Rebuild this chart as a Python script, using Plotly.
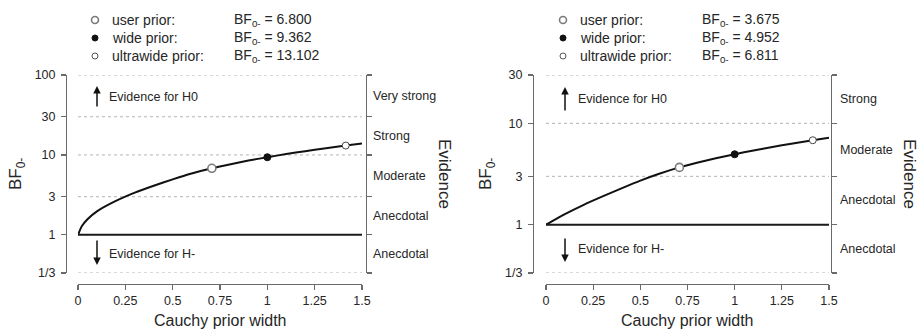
import math
import plotly.graph_objects as go

W, H = 919, 329

# ---------------- data ----------------
prior_width = [0, 0.02, 0.05, 0.1, 0.2, 0.3, 0.4, 0.5, 0.6, 0.707, 0.8, 0.9, 1.0, 1.1, 1.2, 1.3, 1.414, 1.5]
bf_left = [1, 1.28, 1.57, 1.97, 2.66, 3.38, 4.12, 4.95, 5.85, 6.8, 7.6, 8.5, 9.362, 10.25, 11.15, 12.05, 13.102, 13.88]
bf_right = [1, 1.05, 1.13, 1.27, 1.57, 1.9, 2.28, 2.72, 3.18, 3.675, 4.08, 4.52, 4.952, 5.4, 5.85, 6.3, 6.811, 7.2]

prior_names = ["user prior:", "wide prior:", "ultrawide prior:"]
prior_r = [0.707, 1.0, 1.414]
bf_points_left = [6.800, 9.362, 13.102]
bf_points_right = [3.675, 4.952, 6.811]

x_ticks = [0, 0.25, 0.5, 0.75, 1, 1.25, 1.5]
x_ticktext = ["0", "0.25", "0.5", "0.75", "1", "1.25", "1.5"]

y_ticks_left = [1/3, 1, 3, 10, 30, 100]
y_ticktext_left = ["1/3", "1", "3", "10", "30", "100"]
y_ticks_right = [1/3, 1, 3, 10, 30]
y_ticktext_right = ["1/3", "1", "3", "10", "30"]

evidence_left = ["Anecdotal", "Anecdotal", "Moderate", "Strong", "Very strong"]
evidence_right = ["Anecdotal", "Anecdotal", "Moderate", "Strong"]

# ---------------- helpers ----------------
def px(x):
    return x / W

def py(y):
    return 1 - y / H

FONT = "Liberation Sans, Arial, sans-serif"
TXT = "#262626"
AX = "#6a6a6a"

fig = go.Figure()

panels = [
    dict(xa="x", ya="y", ya2="y2", bf=bf_left, pts=bf_points_left, yt=y_ticks_left, ytt=y_ticktext_left,
         ev=evidence_left, x0=78, x1=362, yline=66, rline=366, evx=371, evtitle=445, ytitle=17,
         leg_m=95, leg_t=110, leg_bf=232, arr_x=97, txt_x=107,
         up=(86, 108, 97), down=(265, 239, 254)),
    dict(xa="x2", ya="y3", ya2="y4", bf=bf_right, pts=bf_points_right, yt=y_ticks_right, ytt=y_ticktext_right,
         ev=evidence_right, x0=546, x1=829, yline=533, rline=831, evx=838, evtitle=910, ytitle=487,
         leg_m=563, leg_t=578, leg_bf=700, arr_x=565, txt_x=576,
         up=(87, 112, 99), down=(262, 237, 249)),
]

annotations = []
shapes = []

for i, p in enumerate(panels):
    xa, ya, ya2 = p["xa"], p["ya"], p["ya2"]
    # dashed reference lines
    for v in p["yt"]:
        if v == 1:
            continue
        fig.add_trace(go.Scatter(x=[x_ticks[0], x_ticks[-1]], y=[v, v], mode="lines",
                                 line=dict(color="#b4b4b4", width=1, dash="3px,3px"),
                                 xaxis=xa, yaxis=ya, showlegend=False, hoverinfo="skip"))
    # BF = 1 line
    fig.add_trace(go.Scatter(x=[x_ticks[0], x_ticks[-1]], y=[1, 1], mode="lines",
                             line=dict(color="#1a1a1a", width=2),
                             xaxis=xa, yaxis=ya2, showlegend=False, hoverinfo="skip"))
    # curve
    fig.add_trace(go.Scatter(x=prior_width, y=p["bf"], mode="lines",
                             line=dict(color="#111111", width=2, shape="spline", smoothing=0.6),
                             xaxis=xa, yaxis=ya, showlegend=False))
    # prior points
    styles = [
        dict(size=8, color="white", line=dict(color="#7a7a7a", width=1.6)),
        dict(size=7, color="#111111", line=dict(color="#111111", width=1)),
        dict(size=7, color="white", line=dict(color="#444444", width=1)),
    ]
    for r, b, st in zip(prior_r, p["pts"], styles):
        fig.add_trace(go.Scatter(x=[r], y=[b], mode="markers", marker=dict(symbol="circle", **st),
                                 xaxis=xa, yaxis=ya, showlegend=False))

    # legend (markers as shapes, text as annotations)
    leg_y = [20, 38, 56]
    leg_shape = [
        dict(r=3.5, fill="white", line="#7a7a7a", lw=1.6),
        dict(r=3.0, fill="#111111", line="#111111", lw=1),
        dict(r=3.0, fill="white", line="#555555", lw=1),
    ]
    for name, b, yy, ls in zip(prior_names, p["pts"], leg_y, leg_shape):
        shapes.append(dict(type="circle", xref="paper", yref="paper",
                           xsizemode="pixel", ysizemode="pixel",
                           xanchor=px(p["leg_m"]), yanchor=py(yy),
                           x0=-ls["r"], x1=ls["r"], y0=-ls["r"], y1=ls["r"],
                           fillcolor=ls["fill"], line=dict(color=ls["line"], width=ls["lw"])))
        annotations.append(dict(x=px(p["leg_t"]), y=py(yy), xref="paper", yref="paper",
                                text=name, showarrow=False, xanchor="left", yanchor="middle",
                                font=dict(size=14, color=TXT, family=FONT)))
        annotations.append(dict(x=px(p["leg_bf"]), y=py(yy), xref="paper", yref="paper",
                                text="BF<sub>0-</sub> = %.3f" % b, showarrow=False,
                                xanchor="left", yanchor="middle",
                                font=dict(size=14, color=TXT, family=FONT)))

    # evidence category labels (geometric midpoints between boundaries)
    yt = p["yt"]
    for k, lab in enumerate(p["ev"]):
        mid = (math.log10(yt[k]) + math.log10(yt[k + 1])) / 2
        annotations.append(dict(x=px(p["evx"]), y=mid, xref="paper", yref=ya,
                                text=lab, showarrow=False, xanchor="left", yanchor="middle",
                                font=dict(size=12.5, color=TXT, family=FONT)))

    # arrows + texts
    head, tail, ty = p["up"]
    annotations.append(dict(x=px(p["arr_x"]), y=py(head), xref="paper", yref="paper",
                            ax=0, ay=tail - head, text="", showarrow=True,
                            arrowhead=2, arrowsize=1, arrowwidth=1.5, arrowcolor="#111"))
    annotations.append(dict(x=px(p["txt_x"]), y=py(ty), xref="paper", yref="paper",
                            text="Evidence for H0", showarrow=False, xanchor="left", yanchor="middle",
                            font=dict(size=12.5, color=TXT, family=FONT)))
    head, tail, ty = p["down"]
    annotations.append(dict(x=px(p["arr_x"]), y=py(head), xref="paper", yref="paper",
                            ax=0, ay=tail - head, text="", showarrow=True,
                            arrowhead=2, arrowsize=1, arrowwidth=1.5, arrowcolor="#111"))
    annotations.append(dict(x=px(p["txt_x"]), y=py(ty), xref="paper", yref="paper",
                            text="Evidence for H-", showarrow=False, xanchor="left", yanchor="middle",
                            font=dict(size=12.5, color=TXT, family=FONT)))

    # titles
    annotations.append(dict(x=px((p["x0"] + p["x1"]) / 2), y=py(320), xref="paper", yref="paper",
                            text="Cauchy prior width", showarrow=False, xanchor="center", yanchor="middle",
                            font=dict(size=16, color=TXT, family=FONT)))
    annotations.append(dict(x=px(p["ytitle"]), y=py(174), xref="paper", yref="paper",
                            text="BF<sub>0-</sub>", showarrow=False, textangle=-90,
                            xanchor="center", yanchor="middle",
                            font=dict(size=17, color=TXT, family=FONT)))
    annotations.append(dict(x=px(p["evtitle"]), y=py(174), xref="paper", yref="paper",
                            text="Evidence", showarrow=False, textangle=90,
                            xanchor="center", yanchor="middle",
                            font=dict(size=17, color=TXT, family=FONT)))

common_x = dict(range=[x_ticks[0], x_ticks[-1]], tickvals=x_ticks, ticktext=x_ticktext,
                ticks="outside", ticklen=5, tickwidth=1.2, tickcolor=AX,
                showline=True, linecolor=AX, linewidth=1.4, showgrid=False, zeroline=False,
                anchor="free", position=py(284), fixedrange=True, automargin=False,
                tickfont=dict(size=12.5, color=TXT, family=FONT))

def yax(p, labels=True):
    d = dict(type="log", range=[math.log10(p["yt"][0]), math.log10(p["yt"][-1])],
             tickvals=p["yt"], ticktext=p["ytt"], ticks="outside", ticklen=5, tickwidth=1.2,
             tickcolor=AX, showline=True, linecolor=AX, linewidth=1.4, showgrid=False,
             zeroline=False, anchor="free", showticklabels=labels, fixedrange=True,
             automargin=False,
             tickfont=dict(size=12.5, color=TXT, family=FONT), ticklabelstandoff=3)
    return d

pl, pr = panels
fig.update_layout(
    template="none",
    width=W, height=H,
    margin=dict(l=0, r=0, t=0, b=0, pad=0),
    paper_bgcolor="white", plot_bgcolor="rgba(0,0,0,0)",
    showlegend=False,
    xaxis=dict(domain=[px(pl["x0"]), px(pl["x1"])], **common_x),
    xaxis2=dict(domain=[px(pr["x0"]), px(pr["x1"])], **common_x),
    yaxis=dict(domain=[py(273), py(75)], position=px(pl["yline"]), **yax(pl)),
    yaxis2=dict(overlaying="y", side="right", position=px(pl["rline"]), **yax(pl, labels=False)),
    yaxis3=dict(domain=[py(273), py(75)], position=px(pr["yline"]), **yax(pr)),
    yaxis4=dict(overlaying="y3", side="right", position=px(pr["rline"]), **yax(pr, labels=False)),
    annotations=annotations,
    shapes=shapes,
    font=dict(family=FONT, color=TXT),
)

fig.write_html("out.html",
               config={"displayModeBar": False, "staticPlot": True},
               post_script="document.body.style.margin='0px';document.body.style.overflow='hidden';")
